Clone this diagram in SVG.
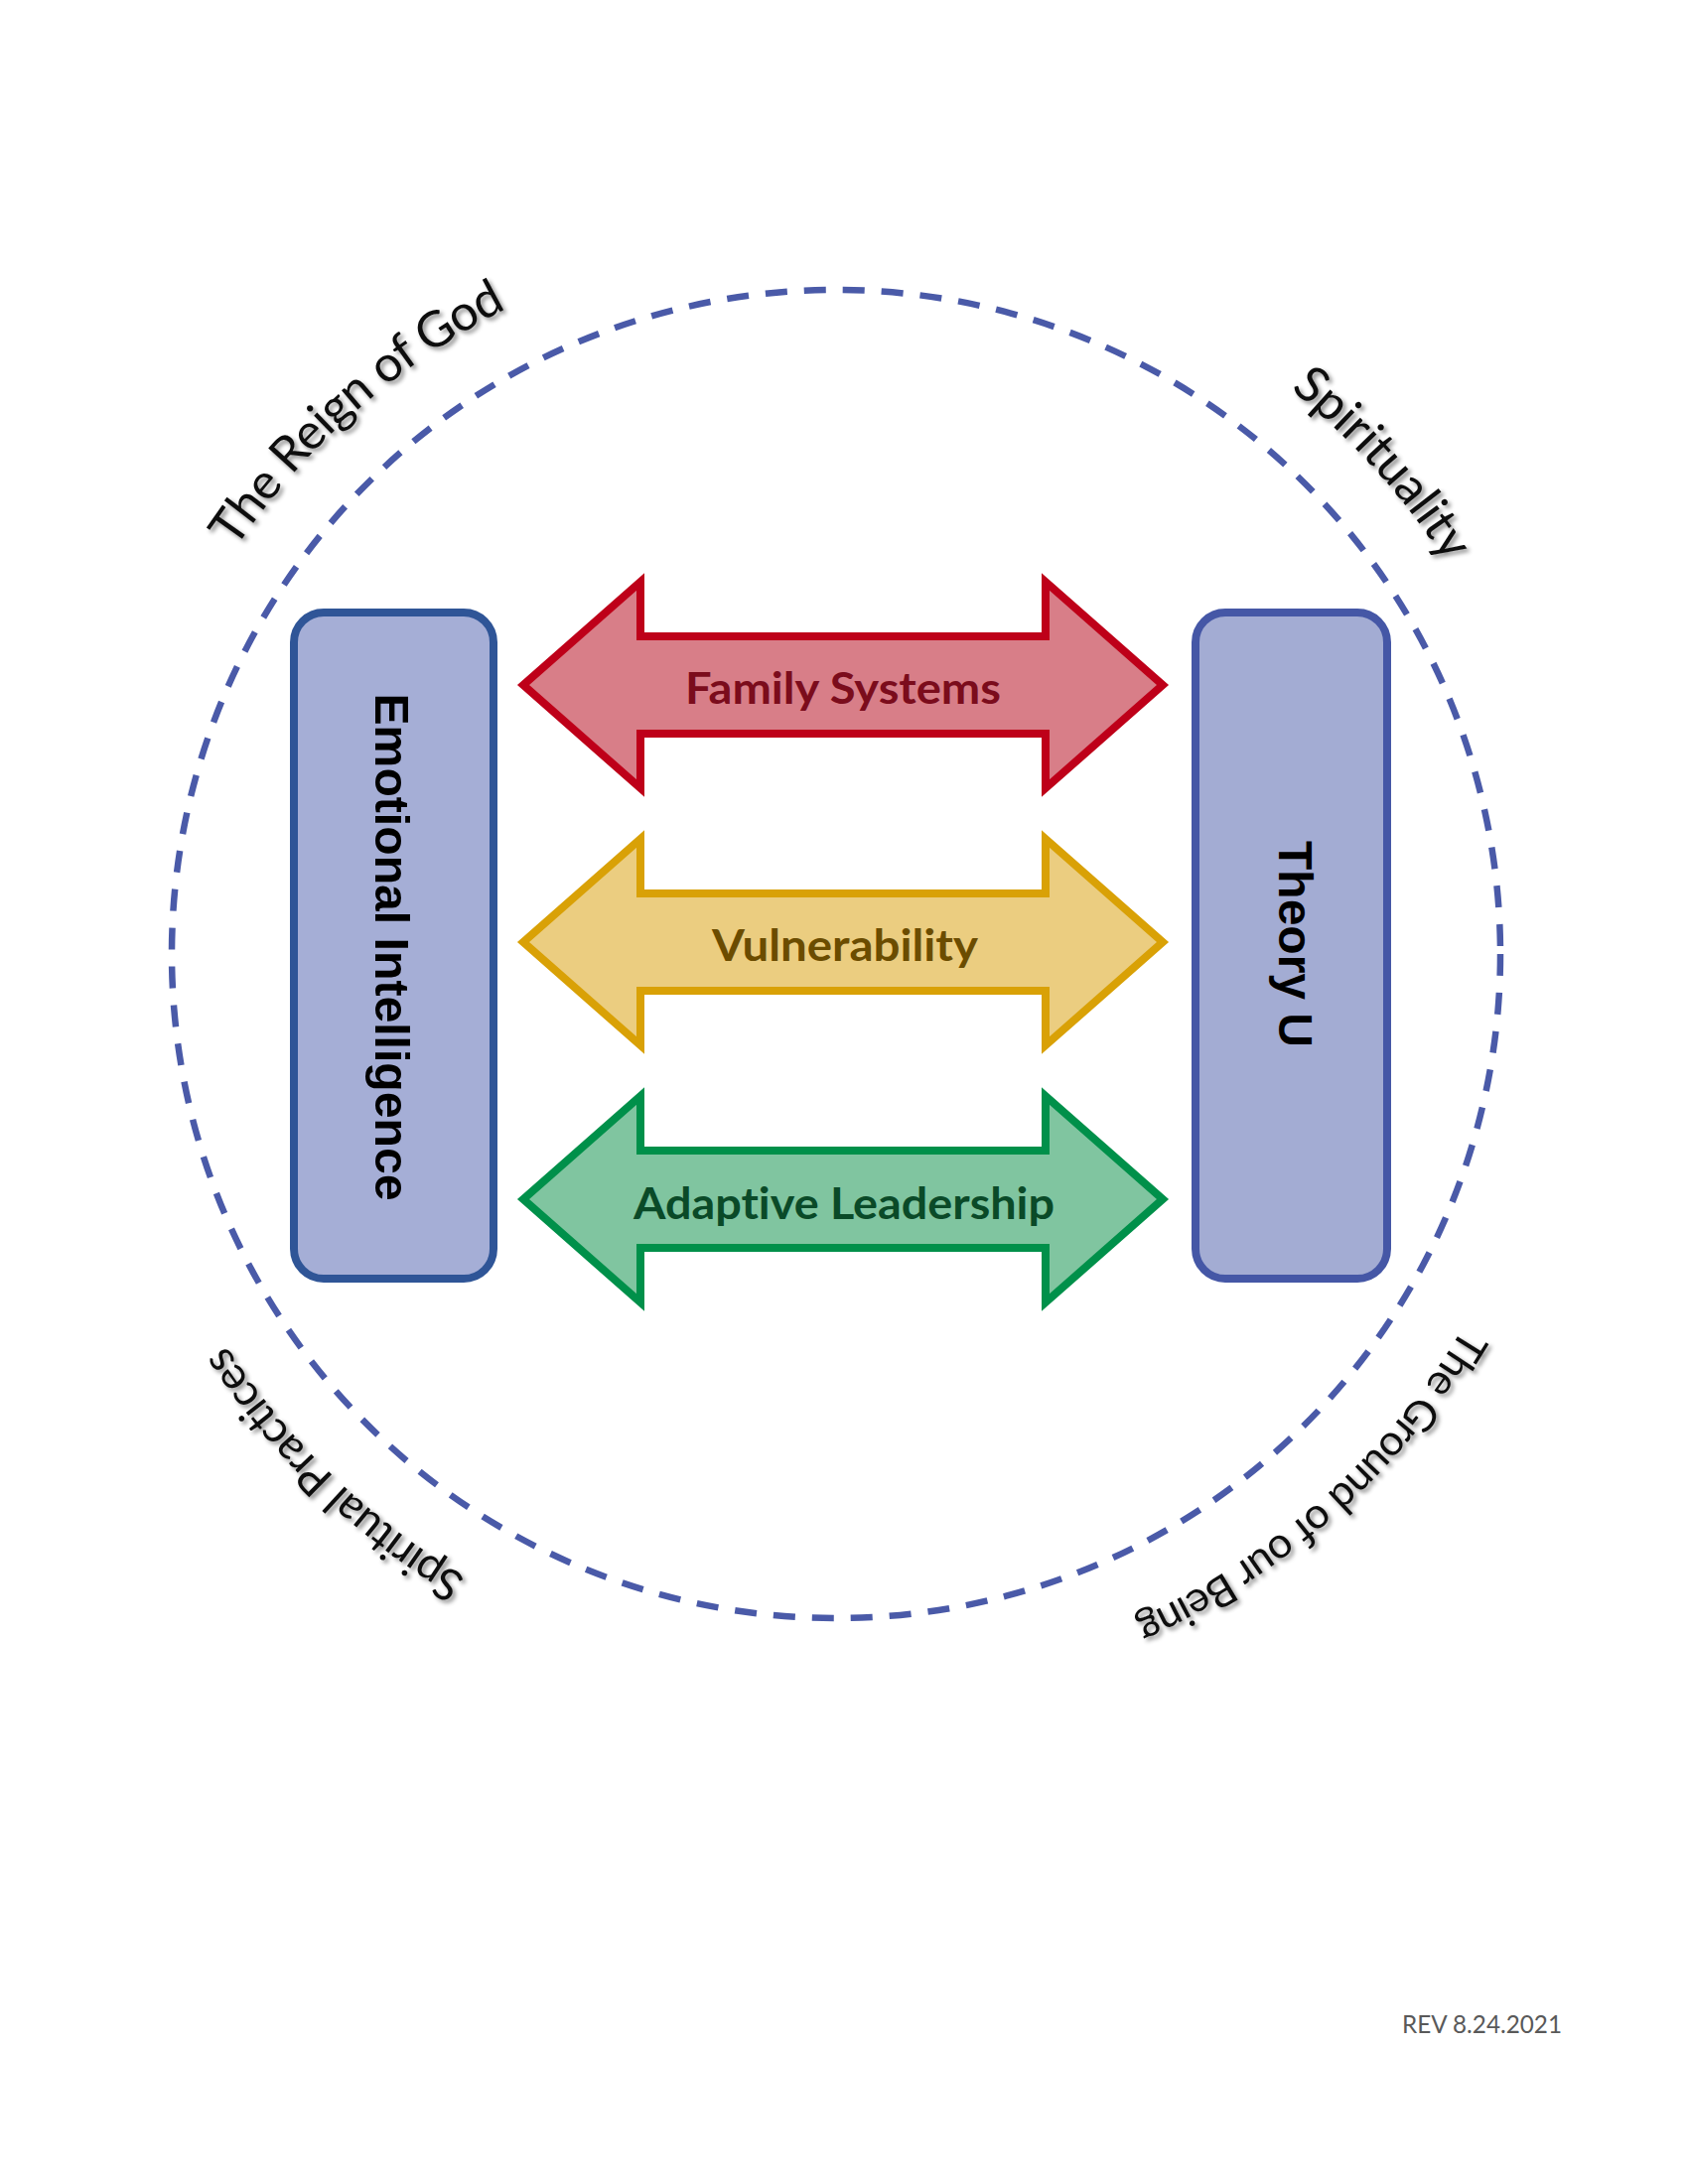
<svg xmlns="http://www.w3.org/2000/svg" width="1700" height="2200" viewBox="0 0 1700 2200">
  <style>
    .box-text { font-family: "Liberation Sans", Arial, sans-serif; font-weight: 700; font-size: 48px; fill: #000000; text-anchor: middle; }
    .arrow-text { font-family: "Lato", "Open Sans", sans-serif; font-weight: 700; font-size: 44px; text-anchor: middle; font-variant-ligatures: none; }
    .arc-text { font-family: "Lato", "Open Sans", sans-serif; font-weight: 400; fill: #111111; font-variant-ligatures: none; }
    .arrow { stroke-width: 8; stroke-linejoin: miter; }
  </style>
  <defs>
    <filter id="shadow" x="-10%" y="-10%" width="130%" height="130%">
      <feDropShadow dx="3" dy="3" stdDeviation="2.2" flood-color="#000000" flood-opacity="0.45"/>
    </filter>
    <path id="arc-reign" d="M236.8,552.8 A730,730 0 0 1 510.6,310.6"/>
    <path id="arc-spirit" d="M1299.4,392.1 A730,730 0 0 1 1454.9,564.5"/>
    <path id="arc-ground" d="M1473.4,1337.3 A735,735 0 0 1 1142.1,1631.9"/>
    <path id="arc-practices" d="M469.2,1588.7 A730,730 0 0 1 227.7,1355.3"/>
  </defs>

  <rect x="0" y="0" width="1700" height="2200" fill="#ffffff"/>

  <g id="outer-circle">
    <circle cx="842" cy="961" r="669" fill="none" stroke="#4A5AA8" stroke-width="6.5" stroke-dasharray="22 17"/>
  </g>

  <g id="circle-labels" filter="url(#shadow)">
    <text id="label-reign" class="arc-text" font-size="50"><textPath href="#arc-reign" textLength="369" lengthAdjust="spacing">The Reign of God</textPath></text>
    <text id="label-spirituality" class="arc-text" font-size="50"><textPath href="#arc-spirit" textLength="236" lengthAdjust="spacing">Spirituality</textPath></text>
    <text id="label-ground" class="arc-text" font-size="43"><textPath href="#arc-ground" textLength="450" lengthAdjust="spacing">The Ground of our Being</textPath></text>
    <text id="label-practices" class="arc-text" font-size="45"><textPath href="#arc-practices" textLength="339" lengthAdjust="spacing">Spiritual Practices</textPath></text>
  </g>

  <g id="node-emotional-intelligence">
    <rect x="296" y="617" width="201" height="671" rx="30" ry="30" fill="#A5AED6" stroke="#2F5597" stroke-width="8"/>
    <text class="box-text" transform="translate(378,954) rotate(90)" x="0" y="0" textLength="511" lengthAdjust="spacingAndGlyphs">Emotional Intelligence</text>
  </g>

  <g id="node-theory-u">
    <rect x="1204" y="617" width="193" height="671" rx="30" ry="30" fill="#A3ACD3" stroke="#4557A6" stroke-width="8"/>
    <text class="box-text" transform="translate(1288,951) rotate(90)" x="0" y="0" textLength="208" lengthAdjust="spacingAndGlyphs">Theory U</text>
  </g>

  <g id="connectors">
    <g id="arrow-family-systems">
      <path class="arrow" d="M527,690 L645,586 L645,641 L1053,641 L1053,586 L1171,690 L1053,794 L1053,739 L645,739 L645,794 Z" fill="#D87E88" stroke="#BE0019"/>
      <text class="arrow-text" x="849" y="709" fill="#7B0C1C" textLength="318" lengthAdjust="spacingAndGlyphs">Family Systems</text>
    </g>
    <g id="arrow-vulnerability">
      <path class="arrow" d="M527,949 L645,845 L645,900 L1053,900 L1053,845 L1171,949 L1053,1053 L1053,998 L645,998 L645,1053 Z" fill="#EBCD80" stroke="#D9A106"/>
      <text class="arrow-text" x="851" y="968" fill="#6B4C00" textLength="268" lengthAdjust="spacingAndGlyphs">Vulnerability</text>
    </g>
    <g id="arrow-adaptive-leadership">
      <path class="arrow" d="M527,1208 L645,1104 L645,1159 L1053,1159 L1053,1104 L1171,1208 L1053,1312 L1053,1257 L645,1257 L645,1312 Z" fill="#80C5A0" stroke="#00904A"/>
      <text class="arrow-text" x="850" y="1228" fill="#0A4A28" textLength="424" lengthAdjust="spacingAndGlyphs">Adaptive Leadership</text>
    </g>
  </g>

  <g id="revision">
    <text x="1412" y="2048" font-family="Lato, 'Open Sans', sans-serif" font-size="25" fill="#595959" textLength="161" lengthAdjust="spacingAndGlyphs">REV 8.24.2021</text>
  </g>
</svg>
